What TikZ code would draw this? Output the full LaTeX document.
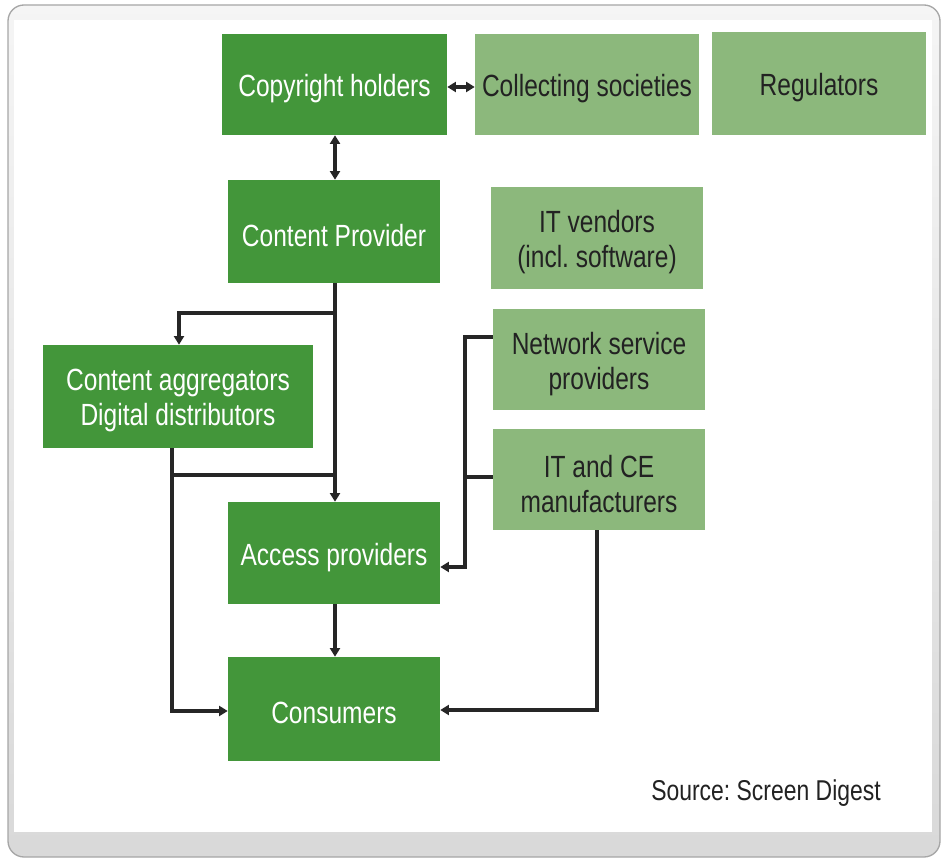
\documentclass[tikz,border=0pt]{standalone}
\usepackage{fontspec}
\setmainfont[FakeStretch=0.8]{Liberation Sans}
\usetikzlibrary{arrows.meta}
\definecolor{dkgreen}{HTML}{43963A}
\definecolor{ltgreen}{HTML}{8CB87C}
\definecolor{txtdark}{HTML}{222222}
\frenchspacing
\begin{document}
\begin{tikzpicture}[x=0.75pt,y=-0.75pt,
  boxtext/.style={align=center,inner sep=0pt,yshift=-3.2pt,font=\fontsize{23}{26}\selectfont},
  dbox/.style={fill=dkgreen,inner sep=0pt,label={[boxtext,text=white]center:#1}},
  lbox/.style={fill=ltgreen,inner sep=0pt,label={[boxtext,text=txtdark]center:#1}},
  conn/.style={line width=3pt,draw=black!85},
  tip/.style={-{Triangle[length=6.5pt,width=7.5pt]}},
  tips/.style={{Triangle[length=6.5pt,width=7.5pt]}-{Triangle[length=6.5pt,width=7.5pt]}}]
\useasboundingbox (0,0) rectangle (947,862);
% frame
\shade[top color=gray!8,bottom color=gray!30,draw=gray!70,line width=1pt,rounded corners=12pt] (8,5) rectangle (940,857);
\fill[white] (14,20) rectangle (932,832);
% boxes
\node[dbox={Copyright holders},minimum width=225*0.75pt,minimum height=101*0.75pt] (ch) at (334.5,84.5) {};
\node[lbox={Collecting societies},minimum width=224*0.75pt,minimum height=101*0.75pt] (cs) at (587,84.5) {};
\node[lbox={Regulators},minimum width=214*0.75pt,minimum height=103*0.75pt] (rg) at (819,83.5) {};
\node[dbox={Content Provider},minimum width=212*0.75pt,minimum height=103*0.75pt] (cp) at (334,231.5) {};
\node[lbox={IT vendors\\(incl. software)},minimum width=212*0.75pt,minimum height=102*0.75pt] (itv) at (597,238) {};
\node[lbox={Network service\\providers},minimum width=212*0.75pt,minimum height=101*0.75pt] (nsp) at (599,359.5) {};
\node[lbox={IT and CE\\manufacturers},minimum width=212*0.75pt,minimum height=101*0.75pt] (ce) at (599,479.5) {};
\node[dbox={Content aggregators\\Digital distributors},minimum width=270*0.75pt,minimum height=103*0.75pt] (ag) at (178,396.5) {};
\node[dbox={Access providers},minimum width=212*0.75pt,minimum height=102*0.75pt] (ap) at (334,553) {};
\node[dbox={Consumers},minimum width=212*0.75pt,minimum height=104*0.75pt] (co) at (334,709) {};
\node[anchor=east,text=txtdark,inner sep=0pt,font=\fontsize{21.5}{24}\selectfont] (src) at (881,793) {Source: Screen Digest};
% junction coordinates
\coordinate (j1) at (335,313);
\coordinate (j2) at (335,475);
\coordinate (j3) at (172,475);
\coordinate (j4) at (465,477);
% connectors
\draw[conn,tips] (ch.east |- 0,87) -- (cs.west |- 0,87);
\draw[conn,tips] (ch.south -| 335,0) -- (cp.north -| 335,0);
\draw[conn,tip] (cp.south -| 335,0) -- (ap.north -| 335,0);
\draw[conn,tip] (j1) -| (ag.north -| 179,0);
\draw[conn] (ag.south -| 172,0) -- (j3) -- (j2);
\draw[conn,tip] (j3) |- (co.west |- 0,711);
\draw[conn,tip] (nsp.west |- 0,337) -| (465,567) -- (ap.east |- 0,567);
\draw[conn] (ce.west |- 0,477) -- (j4);
\draw[conn,tip] (ap.south -| 335,0) -- (co.north -| 335,0);
\draw[conn,tip] (ce.south -| 597,0) |- (co.east |- 0,710);
\end{tikzpicture}
\end{document}
